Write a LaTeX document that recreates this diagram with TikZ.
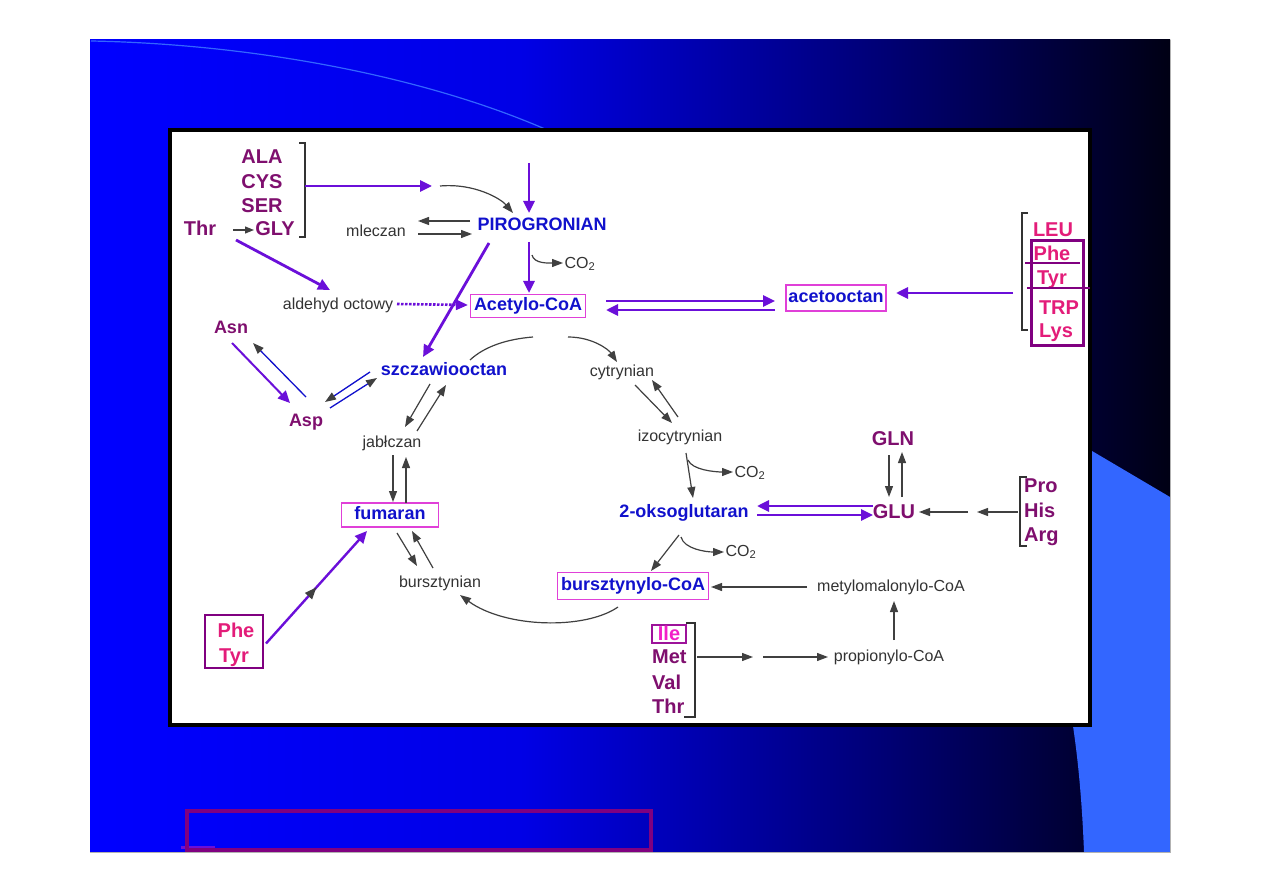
\documentclass[tikz,border=0pt]{standalone}
\usepackage{fontspec}
\setmainfont{Liberation Sans}
\usetikzlibrary{arrows.meta,calc,decorations.markings}
\definecolor{SlideBlue}{HTML}{0000FF}
\definecolor{PaleBlue}{HTML}{3366FF}
\definecolor{AminoPurple}{HTML}{7F0F6E}
\definecolor{AminoPink}{HTML}{E31C79}
\definecolor{IleMagenta}{HTML}{F21FC8}
\definecolor{MetBlue}{HTML}{1111CC}
\definecolor{LabelGray}{HTML}{333333}
\definecolor{ArrowGray}{HTML}{404040}
\definecolor{ArrowViolet}{HTML}{6B0FD9}
\definecolor{BoxMagenta}{HTML}{E040D8}
\definecolor{BoxPurple}{HTML}{800080}
\colorlet{SlideMid}{SlideBlue!90!black}
\colorlet{SlideDark}{SlideBlue!45!black}
\colorlet{SlideEnd}{SlideBlue!8!black}
\pgfdeclarehorizontalshading{slidebg}{100bp}{color(0bp)=(SlideBlue); color(25bp)=(SlideBlue); color(45bp)=(SlideMid); color(62bp)=(SlideDark); color(75bp)=(SlideEnd); color(100bp)=(SlideEnd)}
\tikzset{
  amino/.style={text=AminoPurple, font=\fontsize{20}{22}\selectfont\bfseries, inner sep=0pt, text height=14.5pt, text depth=4pt},
  aminopink/.style={amino, text=AminoPink},
  metab/.style={text=MetBlue, font=\fontsize{18}{20}\selectfont\bfseries, inner sep=0pt, text height=13pt, text depth=3.6pt},
  graylabel/.style={text=LabelGray, font=\fontsize{16}{18}\selectfont, inner sep=0pt, text height=11.5pt, text depth=3.2pt},
  tagbox/.style={draw=BoxMagenta, line width=1.6pt, inner xsep=3.5pt},
  bracketline/.style={draw=LabelGray, line width=1.3pt},
  grayarr/.style={draw=ArrowGray, line width=1.2pt, -{Triangle[length=11pt,width=8pt]}},
  grayline/.style={draw=ArrowGray, line width=1.2pt},
  violetarr/.style={draw=ArrowViolet, line width=2.8pt, -{Triangle[length=12pt,width=11pt]}},
  bluearr/.style={draw=MetBlue, line width=1.3pt, -{Triangle[color=ArrowGray,length=11pt,width=8pt]}},
  midgray/.style={postaction={decorate}, decoration={markings, mark=at position 0.5 with {\arrow[color=ArrowGray]{Triangle[length=12pt,width=9pt]}}}}
}
\begin{document}
\begin{tikzpicture}[x=1pt, y=-1pt]
    \useasboundingbox (0,0) rectangle (1263,893);
    % slide background
    \fill[white] (0,0) rectangle (1263,893);
    \shade[shading=slidebg] (90,40) rectangle (1170,852);
    \fill[PaleBlue] (1070,438) -- (1170,497) -- (1170,852) -- (1084,852)
      .. controls (1082,800) and (1078,760) .. (1073,726) -- (1070,600) -- cycle;
    \draw[PaleBlue, line width=1.2pt] (91,41) .. controls (250,44) and (420,75) .. (545,129);
    \draw[gray!60, line width=0.8pt] (1170,40) -- (1170,852) -- (90,852);
    \fill[ArrowViolet] (181,846) rectangle (215,849);
    \draw[BoxPurple, line width=4pt] (187,811) rectangle (651,850);
    % diagram panel
    \draw[line width=3.5pt, fill=white] (170,130) rectangle (1090,725);

    % amino acids to pyruvate
    \node[amino] (ala) at (262,158) {ALA};
    \node[amino] (cys) at (262,183) {CYS};
    \node[amino] (ser) at (262,207) {SER};
    \node[amino] (gly) at (275,230) {GLY};
    \node[amino] (thrA) at (200,230) {Thr};
    \draw[bracketline] (299,143) -- (305,143) -- (305,237) -- (299,237);
    \draw[grayarr, -{Triangle[length=9pt,width=7pt]}] ($(thrA)+(33,0)$) -- ($(gly)+(-21,0)$);

    % pyruvate and acetyl-CoA
    \node[metab] (pir) at (542,226) {PIROGRONIAN};
    \node[graylabel] (mle) at (376,232) {mleczan};
    \node[graylabel] (co2a) at (580,264) {CO\textsubscript{2}};
    \node[metab, tagbox, minimum height=23pt] (acoa) at (528,306) {Acetylo-CoA};
    \node[graylabel] (ald) at (338,305) {aldehyd octowy};
    \node[metab, tagbox, inner xsep=2.5pt, minimum height=26pt] (aceto) at (836,298) {acetooctan};

    \draw[violetarr] ($(cys)+(43,3)$) -- ($(pir)+(-110,-40)$);
    \draw[grayarr] ($(pir)+(-102,-40)$) .. controls +(35,-3) and +(-12,-14) .. ($(pir)+(-29,-13)$);
    \draw[violetarr] ($(pir)+(-13,-63)$) -- ($(pir)+(-13,-13)$);
    \draw[grayarr] ($(pir)+(-72,-5)$) -- ($(mle)+(42,-11)$);
    \draw[grayarr] ($(mle)+(42,2)$) -- ($(pir)+(-70,8)$);
    \draw[violetarr] ($(pir)+(-13,16)$) -- ($(acoa)+(1,-13)$);
    \draw[grayarr] ($(pir)+(-10,29)$) .. controls +(2,9) and +(-14,0) .. ($(co2a)+(-17,-1)$);
    \draw[ArrowViolet, line width=2.6pt, dash pattern=on 2.5pt off 1.5pt, -{Triangle[length=12pt,width=10pt]}] ($(ald)+(59,-1)$) -- ($(acoa)+(-60,-1)$);
    \draw[violetarr] ($(thrA)+(36,10)$) -- ($(ald)+(-8,-15)$);
    \draw[violetarr] ($(acoa)+(78,-5)$) -- ($(aceto)+(-61,3)$);
    \draw[violetarr] ($(aceto)+(-61,12)$) -- ($(acoa)+(78,4)$);

    % ketogenic group
    \node[aminopink] (leu) at (1053,231) {LEU};
    \node[aminopink] (pheA) at (1052,255) {Phe};
    \node[aminopink] (tyrA) at (1052,279) {Tyr};
    \node[aminopink] (trp) at (1059,309) {TRP};
    \node[aminopink] (lys) at (1056,332) {Lys};
    \draw[bracketline] (1028,213) -- (1022,213) -- (1022,330) -- (1028,330);
    \draw[BoxPurple, line width=1.5pt] (1025,263) -- (1080,263);
    \draw[BoxPurple, line width=1.5pt] (1027,288) -- (1090,288);
    \draw[BoxPurple, line width=3pt] (1031,241) rectangle (1083,345);
    \draw[violetarr] ($(tyrA)+(-39,14)$) -- ($(aceto)+(60,-5)$);

    % oxaloacetate side
    \node[metab] (szcz) at (444,371) {szczawiooctan};
    \node[amino, font=\fontsize{18}{20}\selectfont\bfseries] (asn) at (231,328) {Asn};
    \node[amino, font=\fontsize{18}{20}\selectfont\bfseries] (asp) at (306,421) {Asp};
    \node[graylabel] (jab) at (392,443) {jabłczan};
    \node[metab, tagbox, minimum width=97pt, minimum height=24pt] (fum) at (390,515) {fumaran};
    \node[graylabel] (bur) at (440,583) {bursztynian};

    \draw[violetarr] ($(pir)+(-53,17)$) -- ($(szcz)+(-21,-14)$);
    \draw[violetarr, line width=2pt] ($(asn)+(1,15)$) -- ($(asp)+(-16,-18)$);
    \draw[bluearr] ($(asp)+(0,-24)$) -- ($(asn)+(22,15)$);
    \draw[bluearr] ($(szcz)+(-74,1)$) -- ($(asp)+(19,-19)$);
    \draw[bluearr] ($(asp)+(24,-13)$) -- ($(szcz)+(-67,7)$);
    \draw[grayarr] ($(szcz)+(-14,13)$) -- ($(jab)+(13,-16)$);
    \draw[grayarr] ($(jab)+(25,-12)$) -- ($(szcz)+(2,14)$);
    \draw[grayarr] ($(jab)+(1,12)$) -- ($(fum)+(3,-13)$);
    \draw[grayarr] ($(fum)+(16,-12)$) -- ($(jab)+(14,14)$);
    \draw[grayarr] ($(fum)+(7,18)$) -- ($(bur)+(-23,-17)$);
    \draw[grayarr] ($(bur)+(-7,-15)$) -- ($(fum)+(22,16)$);

    % Phe / Tyr to fumarate
    \node[draw=BoxPurple, line width=2pt, minimum width=58pt, minimum height=53pt, inner sep=0pt] (ptbox) at (234,641.5) {};
    \node[aminopink] (pheB) at (236,632) {Phe};
    \node[aminopink] (tyrB) at (234,657) {Tyr};
    \draw[violetarr, line width=2.4pt, midgray] ($(ptbox.east)+(2,2)$) -- ($(fum)+(-23,16)$);

    % citrate to 2-oxoglutarate
    \node[graylabel] (cyt) at (622,372) {cytrynian};
    \node[graylabel] (izo) at (680,437) {izocytrynian};
    \node[graylabel] (co2b) at (750,473) {CO\textsubscript{2}};
    \node[metab] (oks) at (684,513) {2-oksoglutaran};
    \node[graylabel] (co2c) at (741,552) {CO\textsubscript{2}};

    \draw[grayline] ($(szcz)+(26,-11)$) .. controls +(15,-14) and +(-25,2) .. ($(szcz)+(89,-34)$);
    \draw[grayarr] ($(cyt)+(-54,-35)$) .. controls +(25,0) and +(-8,-12) .. ($(cyt)+(-5,-10)$);
    \draw[grayarr] ($(cyt)+(13,13)$) -- ($(izo)+(-8,-14)$);
    \draw[grayarr] ($(izo)+(-2,-20)$) -- ($(cyt)+(30,8)$);
    \draw[grayarr] ($(izo)+(6,16)$) -- ($(oks)+(9,-15)$);
    \draw[grayarr] ($(izo)+(8,23)$) .. controls +(4,10) and +(-18,0) .. ($(co2b)+(-17,-1)$);

    % glutamate group
    \node[amino] (glu) at (894,513) {GLU};
    \node[amino] (gln) at (893,440) {GLN};
    \node[amino, anchor=west] (pro) at (1024,487) {Pro};
    \node[amino, anchor=west] (his) at (1024,512) {His};
    \node[amino, anchor=west] (arg) at (1024,536) {Arg};
    \draw[bracketline] (1027,477) -- (1020,477) -- (1020,546) -- (1027,546);

    \draw[violetarr] ($(glu)+(-21,-7)$) -- ($(oks)+(73,-7)$);
    \draw[violetarr] ($(oks)+(73,2)$) -- ($(glu)+(-21,2)$);
    \draw[grayarr] ($(gln)+(-4,15)$) -- ($(glu)+(-5,-16)$);
    \draw[grayarr] ($(glu)+(8,-16)$) -- ($(gln)+(9,12)$);
    \draw[grayarr] ($(glu)+(74,-1)$) -- ($(glu)+(25,-1)$);
    \draw[grayarr] ($(his.west)+(-6,0)$) -- ($(glu)+(83,-1)$);

    % succinyl-CoA branch
    \node[metab, tagbox, minimum height=27pt] (bcoa) at (633,586) {bursztynylo-CoA};
    \node[graylabel] (mmcoa) at (891,587) {metylomalonylo-CoA};
    \node[graylabel] (pcoa) at (889,657) {propionylo-CoA};

    \draw[grayarr] ($(oks)+(-5,22)$) -- ($(bcoa)+(18,-15)$);
    \draw[grayarr] ($(oks)+(-3,24)$) .. controls +(3,12) and +(-18,0) .. ($(co2c)+(-17,0)$);
    \draw[grayarr] ($(mmcoa)+(-84,0)$) -- ($(bcoa)+(78,1)$);
    \draw[grayarr] ($(pcoa)+(5,-17)$) -- ($(mmcoa)+(3,14)$);
    \draw[grayarr] ($(bcoa)+(-15,21)$) .. controls +(-33,23) and +(45,33) .. ($(bur)+(20,12)$);

    % Ile / Met / Val / Thr
    \node[amino, text=IleMagenta, draw=BoxPurple!70!BoxMagenta, line width=1.5pt, minimum width=34pt, minimum height=18pt, text height=13pt, text depth=0pt] (ile) at (669,634) {Ile};
    \node[amino, anchor=west] (met) at (652,658) {Met};
    \node[amino, anchor=west] (val) at (652,684) {Val};
    \node[amino, anchor=west] (thrB) at (652,708) {Thr};
    \draw[bracketline] (686,623) -- (695,623) -- (695,717) -- (684,717);
    \draw[grayarr] ($(met.west)+(45,-1)$) -- ($(met.west)+(101,-1)$);
    \draw[grayarr] ($(met.west)+(111,-1)$) -- ($(pcoa)+(-61,0)$);
\end{tikzpicture}
\end{document}
